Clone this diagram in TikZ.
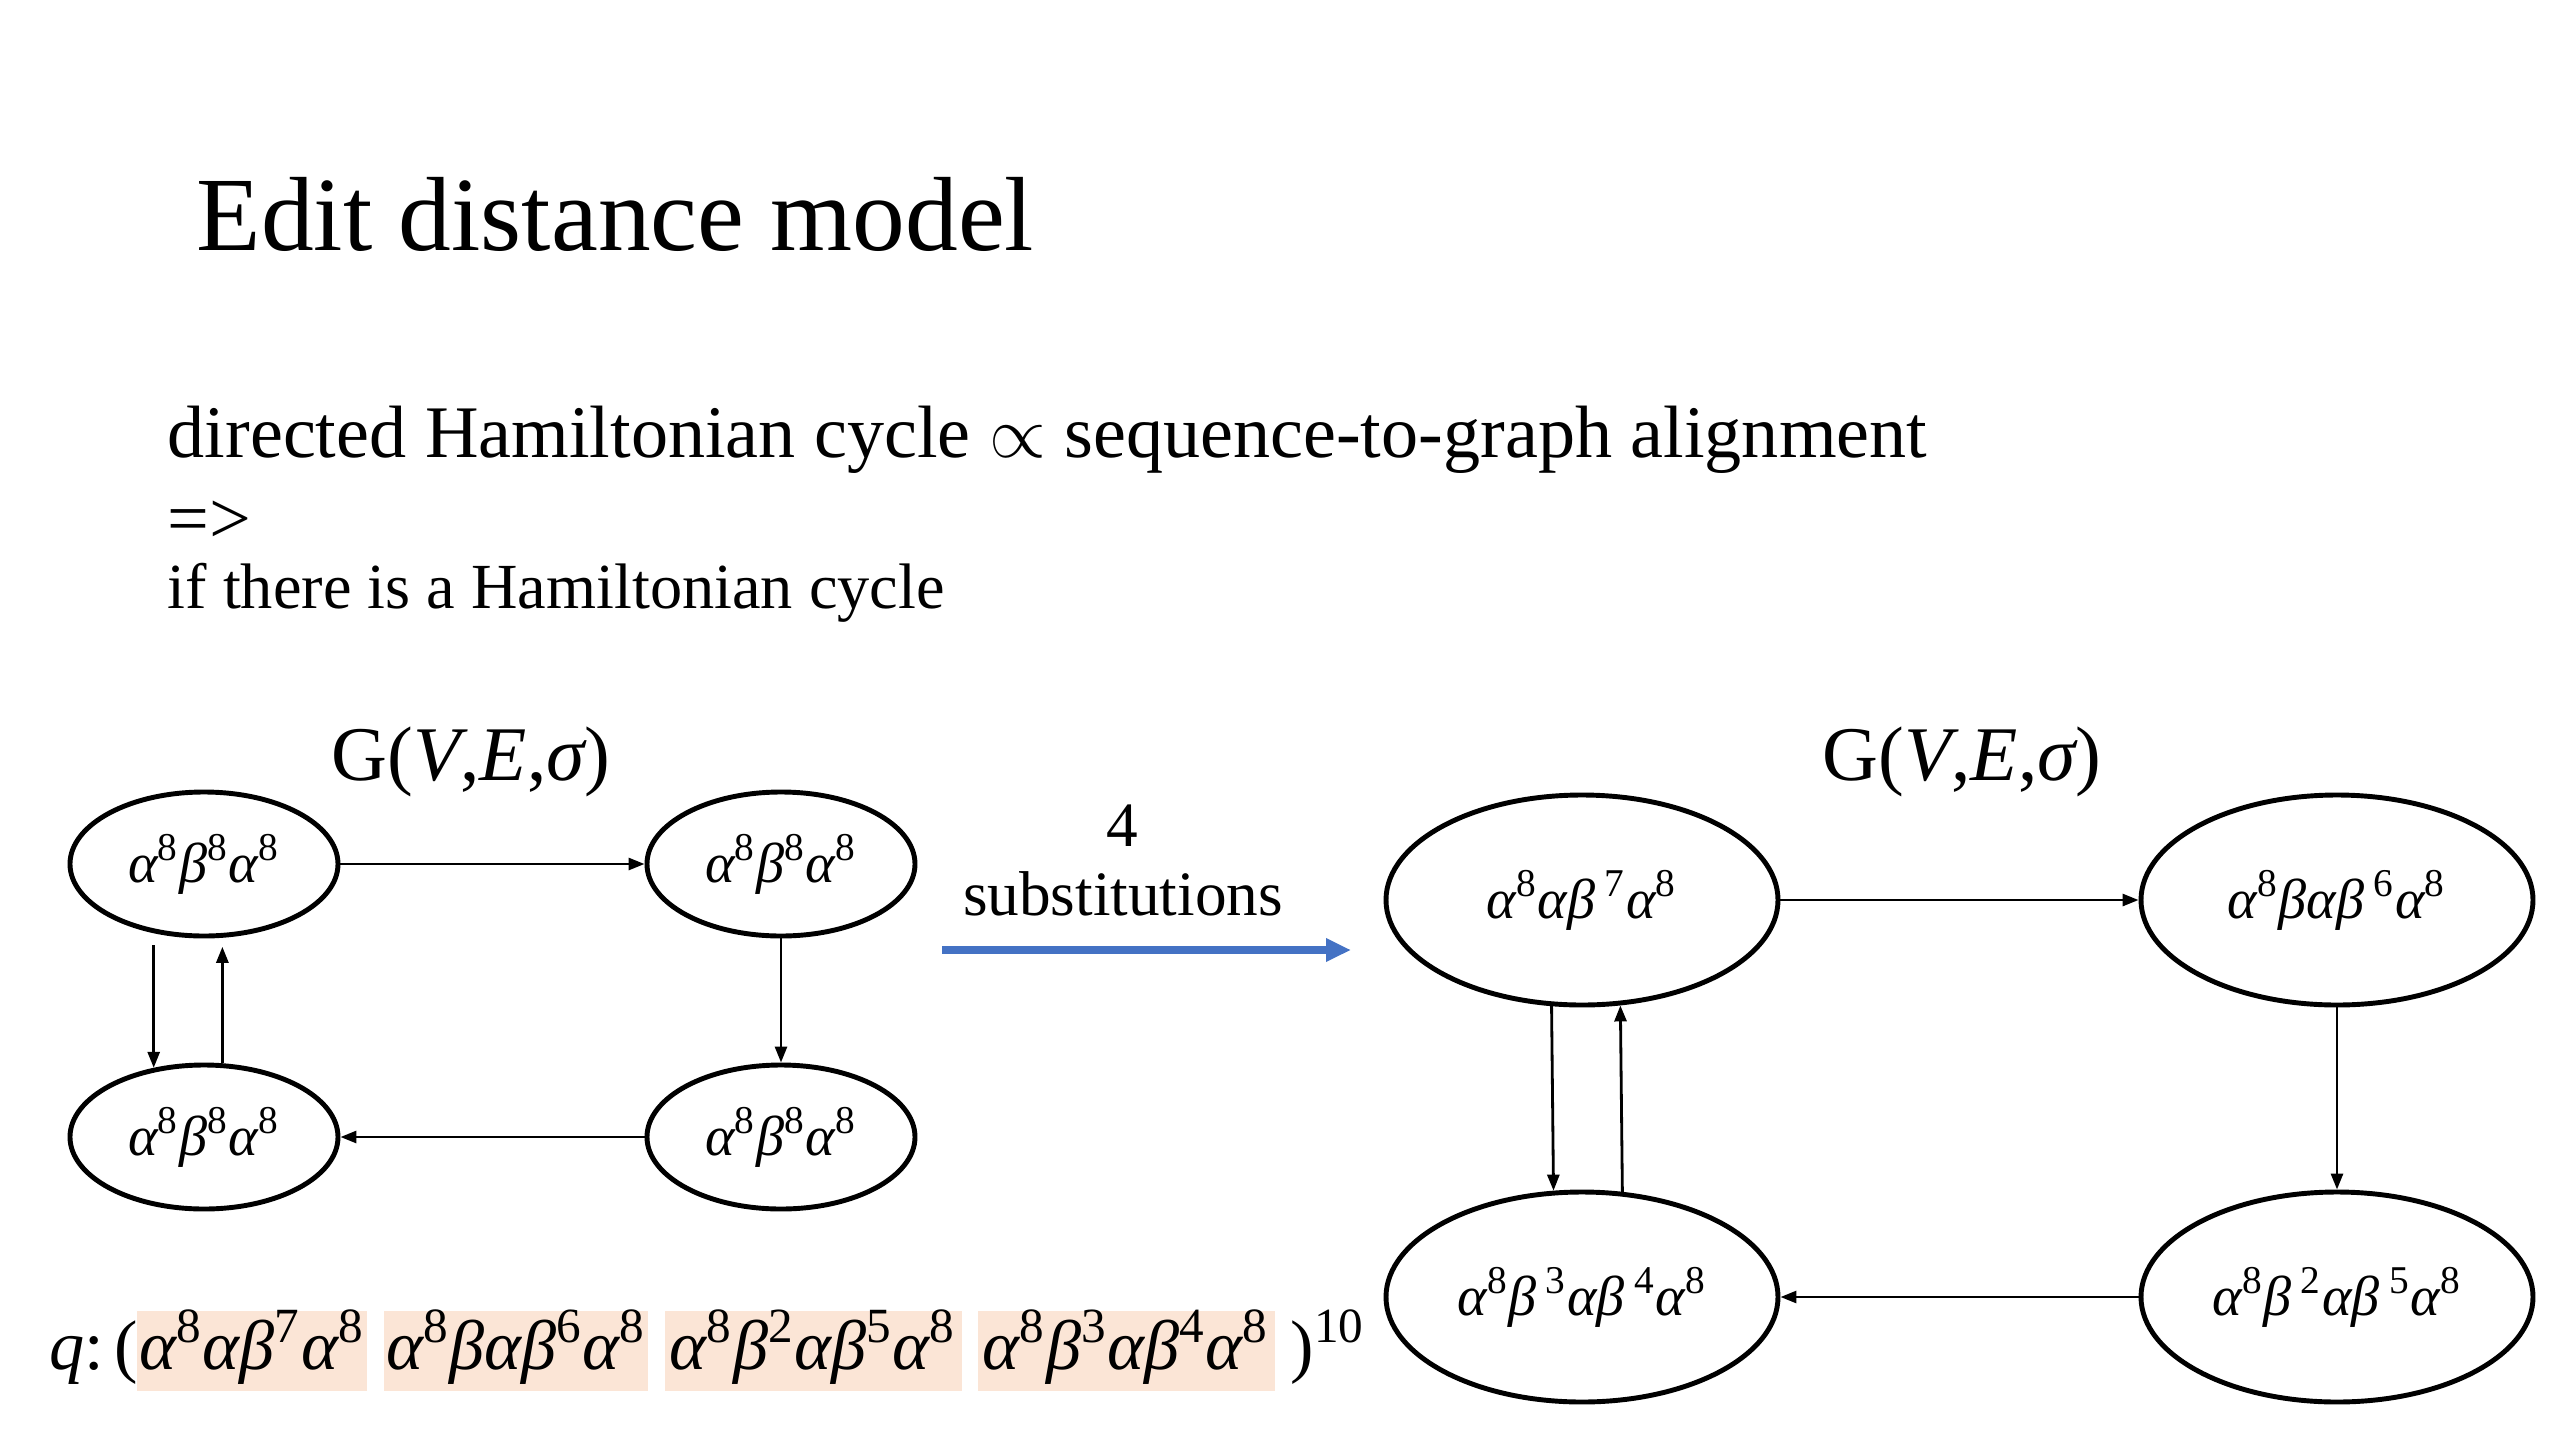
\documentclass[tikz,border=0pt]{standalone}
\usepackage{fontspec}
\setmainfont{Liberation Serif}
\usetikzlibrary{shapes.geometric,arrows.meta}
\definecolor{peach}{HTML}{FBE5D6}
\definecolor{arrowblue}{HTML}{4472C4}
\newcommand\gA{{\itshape α}}
\newcommand\gB{{\itshape β}}
\newcommand\gS{{\itshape σ}}
\newcommand\spx[1]{\textsuperscript{#1}}
\begin{document}
\begin{tikzpicture}[
  vtx/.style={draw, ellipse, line width=1.4pt, inner sep=0pt, font=\fontsize{16}{19}\selectfont},
  smallv/.style={vtx, minimum width=2.68cm, minimum height=1.44cm},
  bigv/.style={vtx, minimum width=3.92cm, minimum height=2.10cm},
  edge/.style={-{Triangle[length=0.16cm,width=0.12cm]}, line width=0.8pt},
  txt/.style={inner sep=0pt, anchor=base west},
  ctxt/.style={inner sep=0pt, anchor=base},
]
\useasboundingbox (0,0) rectangle (25.6,-14.4);

% texts
\node[txt, font=\fontsize{30}{36}\selectfont] (title) at (1.96,-2.50) {Edit distance model};
\node[txt, font=\fontsize{21.1}{25}\selectfont] (line1) at (1.67,-4.57) {directed Hamiltonian cycle $\propto$ sequence-to-graph alignment};
\node[txt, font=\fontsize{21.1}{25}\selectfont] (line2) at (1.67,-5.43) {=>};
\node[txt, font=\fontsize{18.3}{22}\selectfont] (line3) at (1.67,-6.08) {if there is a Hamiltonian cycle};

\node[txt, font=\fontsize{22}{26}\selectfont] (gleft) at (3.31,-7.80) {G(\textit{V},\textit{E},\gS)};
\node[txt, font=\fontsize{22}{26}\selectfont] (gright) at (18.22,-7.80) {G(\textit{V},\textit{E},\gS)};

% left graph
\node[smallv] (L1) at (2.04,-8.64) {\gA\spx8\gB\spx8\gA\spx8};
\node[smallv] (L2) at (7.81,-8.64) {\gA\spx8\gB\spx8\gA\spx8};
\node[smallv] (L3) at (2.04,-11.37) {\gA\spx8\gB\spx8\gA\spx8};
\node[smallv] (L4) at (7.81,-11.37) {\gA\spx8\gB\spx8\gA\spx8};
\draw[edge] (L1.east) -- (L2.west);
\draw[edge] (L2.south) -- (L4.north);
\draw[edge] (L4.west) -- (L3.east);
\draw[edge, shorten <=0.12cm] (L1.234) -- (L3.126);
\draw[edge, shorten >=0.09cm] (L3.76) -- (L1.284);

% substitution arrow
\node[ctxt, font=\fontsize{18}{22}\selectfont] (four) at (11.22,-8.46) {4};
\node[ctxt, font=\fontsize{18}{22}\selectfont] (subs) at (11.23,-9.15) {substitutions};
\coordinate (bs) at (9.42,-9.50);
\coordinate (be) at (13.51,-9.50);
\draw[arrowblue, line width=2pt, -{Triangle[length=0.25cm,width=0.22cm]}] (bs) -- (be);

% right graph
\node[bigv] (R1) at (15.82,-9.00) {\gA\spx8\gA\gB\,\spx7\gA\spx8};
\node[bigv] (R2) at (23.37,-9.00) {\gA\spx8\gB\gA\gB\,\spx6\gA\spx8};
\node[bigv] (R3) at (15.82,-12.97) {\gA\spx8\gB\,\spx3\gA\gB\,\spx4\gA\spx8};
\node[bigv] (R4) at (23.37,-12.97) {\gA\spx8\gB\,\spx2\gA\gB\,\spx5\gA\spx8};
\draw[edge] (R1.east) -- (R2.west);
\draw[edge] (R2.south) -- (R4.north);
\draw[edge] (R4.west) -- (R3.east);
\draw[edge] (R1.254.4) -- (R3.105.6);
\draw[edge] (R3.69.8) -- (R1.290.2);

% query string
\fill[peach] (1.37,-13.11) rectangle (3.67,-13.91);
\fill[peach] (3.84,-13.11) rectangle (6.48,-13.91);
\fill[peach] (6.65,-13.11) rectangle (9.62,-13.91);
\fill[peach] (9.78,-13.11) rectangle (12.75,-13.91);
\begin{scope}[every node/.append style={font=\fontsize{20}{24}\selectfont}]
\node[txt] (qlab) at (0.49,-13.69) {\textit{q}:};
\node[txt] (qopen) at (1.14,-13.69) {(};
\node[ctxt] (q1) at (2.52,-13.69) {\gA\spx8\gA\gB\spx7\gA\spx8};
\node[ctxt] (q2) at (5.16,-13.69) {\gA\spx8\gB\gA\gB\spx6\gA\spx8};
\node[ctxt] (q3) at (8.13,-13.69) {\gA\spx8\gB\spx2\gA\gB\spx5\gA\spx8};
\node[ctxt] (q4) at (11.26,-13.69) {\gA\spx8\gB\spx3\gA\gB\spx4\gA\spx8};
\node[txt] (qend) at (12.90,-13.69) {)\spx{10}};
\end{scope}
\end{tikzpicture}
\end{document}
